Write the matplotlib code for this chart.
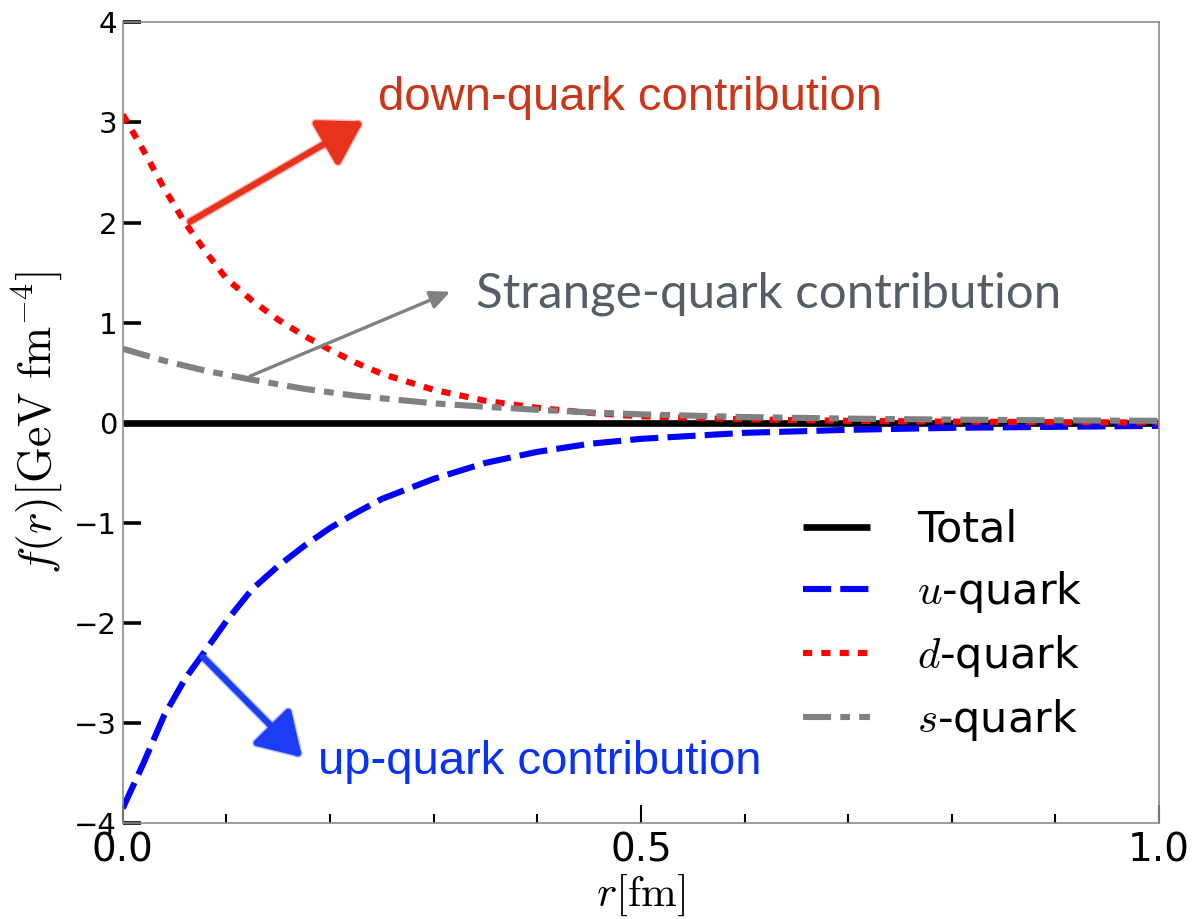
import matplotlib
matplotlib.use('Agg')
import matplotlib.pyplot as plt
import matplotlib.patheffects as pe
from matplotlib.ticker import MultipleLocator
import numpy as np

plt.rcParams['mathtext.fontset'] = 'cm'

# radial grid [fm] and quark contributions to f(r) [GeV fm^-4]
r = [0, 0.02, 0.04, 0.06, 0.08, 0.1, 0.125, 0.15, 0.175, 0.2, 0.225, 0.25,
     0.3, 0.35, 0.4, 0.45, 0.5, 0.6, 0.7, 0.8, 0.9, 1.0]
f_u = [-3.85, -3.40, -2.92, -2.56, -2.27, -1.98, -1.66, -1.43, -1.23, -1.05, -0.90, -0.76,
       -0.56, -0.40, -0.29, -0.21, -0.16, -0.10, -0.07, -0.05, -0.04, -0.03]
f_d = [3.08, 2.72, 2.34, 2.00, 1.71, 1.44, 1.22, 1.03, 0.87, 0.73, 0.60, 0.49,
       0.33, 0.22, 0.15, 0.10, 0.065, 0.035, 0.02, 0.012, 0.007, 0.004]
f_s = [0.74, 0.68, 0.62, 0.57, 0.52, 0.48, 0.43, 0.385, 0.34, 0.305, 0.27, 0.245,
       0.195, 0.16, 0.13, 0.105, 0.085, 0.058, 0.042, 0.032, 0.025, 0.02]
f_total = [0.0] * len(r)

labels = ['Total', r'$u$-quark', r'$d$-quark', r'$s$-quark']

fig = plt.figure(figsize=(11.93, 9.19), dpi=100)
ax = fig.add_axes([0.1029, 0.1041, 0.8686, 0.8716])

lw = 4.4
ax.plot(r, f_total, color='k', lw=4.8, label=labels[0], solid_capstyle='butt')
ax.plot(r, f_u, color='#0000ff', lw=lw, dashes=(4.6, 1.5), label=labels[1])
ax.plot(r, f_d, color='#ff0000', lw=lw, dashes=(1.5, 1.5), label=labels[2])
ax.plot(r, f_s, color='#808080', lw=lw, dashes=(4.6, 1.5, 1.6, 1.5), label=labels[3])

ax.set_xlim(0, 1.0)
ax.set_ylim(-4, 4)
ax.xaxis.set_major_locator(MultipleLocator(0.5))
ax.xaxis.set_minor_locator(MultipleLocator(0.1))
ax.yaxis.set_major_locator(MultipleLocator(1))
ax.xaxis.set_major_formatter(matplotlib.ticker.FormatStrFormatter('%.1f'))

ax.tick_params(axis='y', which='major', direction='in', length=13, width=2.6,
               labelsize=21, pad=4, right=False)
ax.tick_params(axis='x', which='major', direction='in', length=13, width=1.5,
               labelsize=28, pad=6, top=False)
ax.tick_params(axis='x', which='minor', direction='in', length=6.5, width=1.5, top=False)

for sp in ax.spines.values():
    sp.set_color('#8c8c8c')
    sp.set_linewidth(1.2)

ax.set_xlabel(r'$r[\mathrm{fm}]$', fontsize=31, labelpad=2)
ax.set_ylabel(r'$f(r)[\mathrm{GeV\ fm}^{-4}]$', fontsize=33, labelpad=6)

leg = ax.legend(loc='center', bbox_to_anchor=(943 / 1193, 1 - 626 / 919),
                bbox_transform=fig.transFigure, frameon=False, fontsize=31,
                handlelength=1.55, handletextpad=1.1, labelspacing=0.42)


def soft_arrow(tail, tip, color):
    ax.annotate('', xy=tip, xytext=tail,
                arrowprops=dict(arrowstyle='-|>,head_length=26,head_width=16',
                                mutation_scale=1, lw=4.5, color=color,
                                shrinkA=0, shrinkB=0,
                                path_effects=[pe.Stroke(linewidth=6.5, foreground=color, alpha=0.3),
                                              pe.Normal()]))


soft_arrow((0.065, 2.01), (0.232, 3.01), '#e8321c')
soft_arrow((0.0775, -2.34), (0.173, -3.34), '#1d3df5')
ax.annotate('', xy=(0.316, 1.31), xytext=(0.123, 0.467),
            arrowprops=dict(arrowstyle='-|>,head_length=12,head_width=5.5',
                            mutation_scale=1, lw=2.4, color='#808080',
                            shrinkA=0, shrinkB=0))

fig.text(378 / 1193, 1 - 98 / 919, 'down-quark contribution', color='#c9361a',
         fontsize=34, family='Liberation Sans', va='center', ha='left')
fig.text(318 / 1193, 1 - 762 / 919, 'up-quark contribution', color='#0a32f5',
         fontsize=34, family='Liberation Sans', va='center', ha='left')
fig.text(476 / 1193, 1 - 294 / 919, 'Strange-quark contribution', color='#575d66',
         fontsize=35.5, family='Lato', va='center', ha='left')

fig.savefig('out.png', dpi=100)
